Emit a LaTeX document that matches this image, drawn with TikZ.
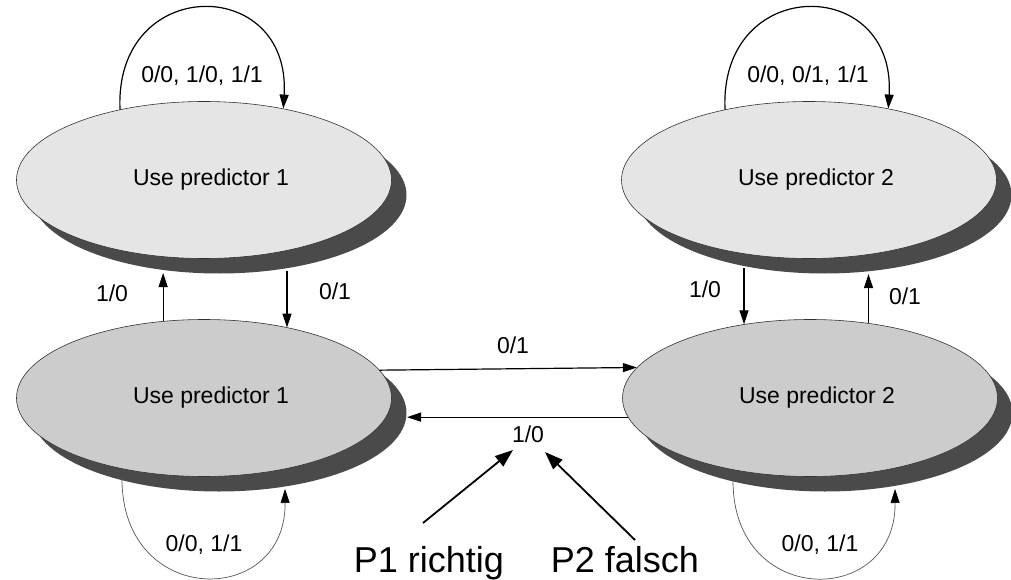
\documentclass[tikz,border=0pt]{standalone}
\usepackage{fontspec}
\setmainfont{Liberation Sans}
\usetikzlibrary{shapes.geometric,shadows,arrows.meta}
\definecolor{lightfill}{HTML}{E5E5E5}
\definecolor{midfill}{HTML}{CCCCCC}
\definecolor{shadowgray}{HTML}{4A4A4A}
\definecolor{rimgray}{HTML}{333333}
\definecolor{loopgray}{HTML}{555555}
\begin{document}
\begin{tikzpicture}[x=1pt,y=-1pt,
  state/.style={ellipse, draw=rimgray, line width=0.6pt, minimum width=375pt,
    minimum height=157pt, inner sep=0pt, font=\fontsize{23}{27}\selectfont,
    drop shadow={shadow xshift=15pt, shadow yshift=-15pt, fill=shadowgray, opacity=1}},
  upper/.style={state, fill=lightfill},
  lower/.style={state, fill=midfill},
  lbl/.style={font=\fontsize{23}{27}\selectfont, inner sep=0pt, text height=0.72em, text depth=0pt},
  big/.style={font=\fontsize{36}{42}\selectfont, inner sep=0pt, anchor=base},
  arr/.style={-{Triangle[length=14pt,width=9pt]}, line width=1.2pt},
  looparr/.style={-{Triangle[length=14pt,width=9pt,color=black]}, line width=0.7pt, draw=loopgray},
  annot/.style={-{Triangle[length=18pt,width=13pt]}, line width=1.8pt}
]
\useasboundingbox (0,0) rectangle (1011,580);

% states
\node[upper] (tl) at (204,180) {\hspace*{14pt}Use predictor 1};
\node[lower] (bl) at (204,398) {\hspace*{14pt}Use predictor 1};
\node[upper] (tr) at (809,180) {\hspace*{14pt}Use predictor 2};
\node[lower] (br) at (810,398) {\hspace*{14pt}Use predictor 2};

% top self loops
\draw[arr] (tl.140.7) .. controls +(-6,-135) and +(8,-134) .. (tl.42.3);
\draw[arr] (tr.140) .. controls +(-6,-135) and +(8,-134) .. (tr.42.3);
\node[lbl] (ltl) at (202,79) {0/0, 1/0, 1/1};
\node[lbl] (ltr) at (808,79) {0/0, 0/1, 1/1};

% bottom self loops
\coordinate (lbs) at (122,479);
\coordinate (lbe) at (285,489);
\draw[looparr] (lbs) .. controls (122,608) and (286,608) .. (lbe);
\coordinate (rbs) at (733,481);
\coordinate (rbe) at (895,489);
\draw[looparr] (rbs) .. controls (733,608) and (896,608) .. (rbe);
\node[lbl] (lbl) at (204,548) {0/0, 1/1};
\node[lbl] (lbr) at (820,548) {0/0, 1/1};

% vertical transitions left
\coordinate (lu) at (163,273);
\draw[arr] (bl.118) -- (bl.118 |- lu);
\coordinate (ld) at (287,271);
\draw[arr] (ld) -- (ld |- bl.40.5);
\node[lbl] (l1) at (112,298) {1/0};
\node[lbl] (l2) at (335,296) {0/1};

% vertical transitions right
\coordinate (rd) at (744,268);
\draw[arr] (rd) -- (rd |- br.132.1);
\coordinate (ru) at (867,274);
\draw[arr] (br.52.5) -- (br.52.5 |- ru);
\node[lbl] (r1) at (705,294) {1/0};
\node[lbl] (r2) at (905,301) {0/1};

% horizontal transitions
\draw[arr] (bl.9.5) -- (br.170.5);
\coordinate (hs) at (407,417);
\draw[arr] (br.186) -- (br.186 -| hs);
\node[lbl] (h1) at (513,350) {0/1};
\node[lbl] (h2) at (528,439) {1/0};

% annotations
\node[big] (p1) at (429,572) {P1 richtig};
\node[big] (p2) at (625,572) {P2 falsch};
\coordinate (p1s) at (423,523);
\coordinate (p1e) at (513,450);
\coordinate (p2s) at (635,540);
\coordinate (p2e) at (545,452);
\draw[annot] (p1s) -- (p1e);
\draw[annot] (p2s) -- (p2e);
\end{tikzpicture}
\end{document}
